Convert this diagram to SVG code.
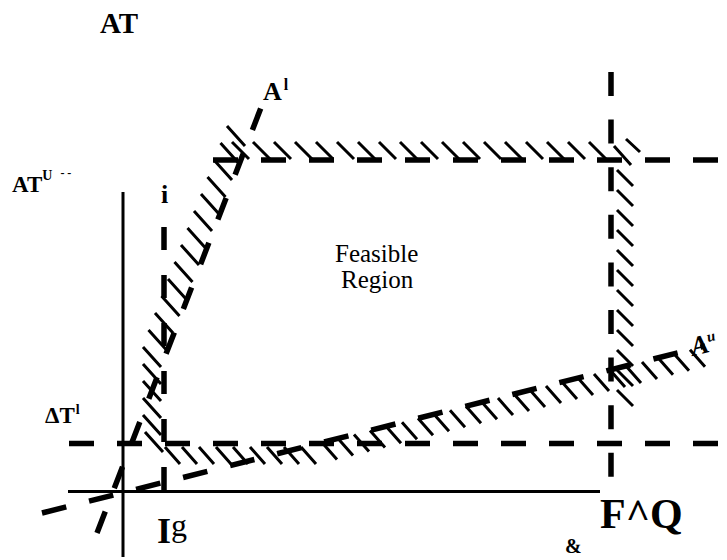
<svg xmlns="http://www.w3.org/2000/svg" width="727" height="560" viewBox="0 0 727 560">
  <style>
    .axis { stroke: #000; stroke-width: 3; fill: none; }
    .dash { stroke: #000; stroke-width: 5.5; fill: none; }
    .hatch { stroke: #000; stroke-width: 3; fill: none; }
    text { font-family: 'Liberation Serif', 'DejaVu Serif', serif; fill: #000; }
    .b { font-weight: bold; }
  </style>
  <rect width="727" height="560" fill="#fff"/>

  <g id="axes">
    <line class="axis" x1="123" y1="192" x2="123" y2="557"/>
    <line class="axis" x1="68" y1="491.5" x2="600" y2="491.5"/>
  </g>

  <g id="connectors">
    <line class="dash" x1="213" y1="160" x2="727" y2="160" stroke-dasharray="25 23"/>
    <line class="dash" x1="69" y1="443.5" x2="727" y2="443.5" stroke-dasharray="25 23"/>
    <line class="dash" x1="611" y1="72" x2="611" y2="478" stroke-dasharray="24 23.6"/>
    <line class="dash" x1="164" y1="227" x2="164" y2="491" stroke-dasharray="23 25"/>
    <line class="dash" x1="97" y1="533" x2="262" y2="105" stroke-dasharray="23 25"/>
    <line class="dash" x1="42" y1="513" x2="705" y2="346" stroke-dasharray="25 23.5"/>
  </g>

  <g id="hatching">
    <path class="hatch" d="M232 142l17 17M253 142l17 17M274 142l17 17M295 142l17 17M316 142l17 17M337 142l17 17M358 142l17 17M379 142l17 17M400 142l17 17M421 142l17 17M442 142l17 17M463 142l17 17M484 142l17 17M505 142l17 17M526 142l17 17M547 142l17 17M568 142l17 17M589 142l17 17M614 146l17 19M626 139l14 13"/>
    <path class="hatch" d="M617 170l16 16M617 190l16 16M617 210l16 16M617 230l16 16M617 250l16 16M617 270l16 16M617 290l16 16M617 310l16 16M617 330l16 16M617 350l16 16M617 370l16 16M617 390l16 16"/>
    <path class="hatch" d="M227 126l18 20M220.5 143l18 20M214 160l18 20M207.5 177l18 20M201 194l18 20M194 211l18 20M187.5 228l18 20M181 245l18 20M174.5 262l18 20M168 279l18 20M161.5 296l18 20M155 313l18 20M148.5 330l18 20M143 347l18 20M143 364l18 20M143 381l18 20M143 398l18 20M143 415l18 20M145 432l18 20"/>
    <path class="hatch" d="M165 447l15 17M182 447l15 17M199 447l15 17M216 447l15 17M233 447l15 17M250 447l15 17M267 447l15 17M284 447l15 17M301 447l15 17"/>
    <path class="hatch" d="M322 442.5l15 17M338 438.4l15 17M354 434.4l15 17M370 430.4l15 17M386 426.3l15 17M402 422.3l15 17M418 418.3l15 17M434 414.3l15 17M450 410.2l15 17M466 406.2l15 17M482 402.2l15 17M498 398.1l15 17M514 394.1l15 17M530 390.1l15 17M546 386l15 17M562 382l15 17M578 378l15 17M594 373.9l15 17M610 369.9l15 17M626 365.9l15 17M642 361.9l15 17M658 357.8l15 17M674 353.8l15 17M690 349.8l15 17"/>
  </g>

  <g id="labels">
    <text class="b" x="100" y="33" font-size="29">AT</text>
    <text class="b" x="12" y="192" font-size="23">AT<tspan font-size="14" dy="-12">U</tspan><tspan font-size="12" dx="8" dy="-3">- -</tspan></text>
    <text class="b" x="263" y="100" font-size="26">A<tspan font-size="16" dy="-10" dx="2">l</tspan></text>
    <text class="b" x="161" y="203" font-size="26">i</text>
    <text x="335" y="262" font-size="25">Feasible</text>
    <text x="341" y="288" font-size="25">Region</text>
    <text class="b" x="45" y="423" font-size="23">ΔT<tspan font-size="14" dy="-9" dx="1">l</tspan></text>
    <text transform="translate(693 356) rotate(-14)" font-size="27" font-style="italic" font-weight="bold">A<tspan font-size="15" dy="-10">u</tspan></text>
    <text x="157" y="543" font-size="36"><tspan font-weight="bold">I</tspan><tspan font-size="32" dy="-7">g</tspan></text>
    <text class="b" x="600" y="528" font-size="42">F^Q</text>
    <text class="b" x="565" y="553" font-size="20">&amp;</text>
  </g>
</svg>
